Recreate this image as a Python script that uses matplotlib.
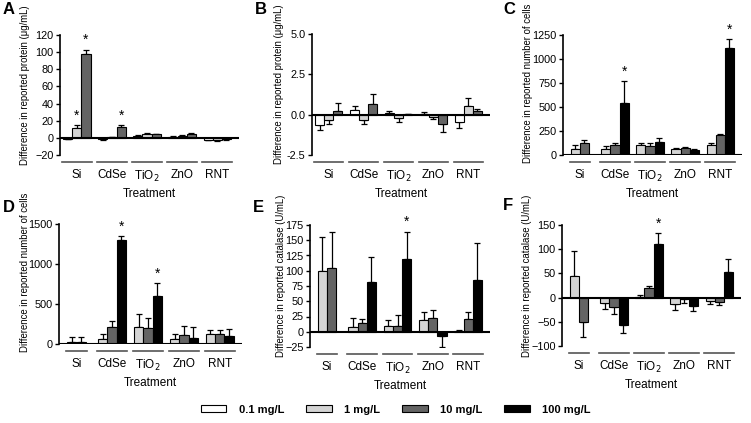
import numpy as np
import matplotlib
matplotlib.use("Agg")
import matplotlib.pyplot as plt
from matplotlib.transforms import blended_transform_factory
from matplotlib.patches import Patch

NARROW = ['Liberation Sans Narrow', 'Liberation Sans', 'DejaVu Sans']
REGULAR = ['Liberation Sans', 'DejaVu Sans']
plt.rcParams['font.family'] = NARROW
plt.rcParams['mathtext.fontset'] = 'custom'
plt.rcParams['mathtext.rm'] = 'Liberation Sans Narrow'

groups = ['Si', 'CdSe', 'TiO$_2$', 'ZnO', 'RNT']
nan = np.nan

# Panel A: protein (ug/mL), concentrations 0.1, 1, 10
A_c01 = [-1, -1.5, 2.5, 1.5, -2]
A_c01_err = [0.5, 0.5, 1, 0.5, 1]
A_c1 = [12, 1, 4, 2, -3]
A_c1_err = [3, 0.5, 1.5, 1, 1]
A_c10 = [98, 13, 4, 5, -1.5]
A_c10_err = [5, 2, 1, 1, 0.5]
A_star = [(0, 1), (0, 2), (1, 2)]

# Panel B: protein (ug/mL)
B_c01 = [-0.65, 0.3, 0.1, 0.05, -0.45]
B_c01_err = [0.3, 0.25, 0.1, 0.1, 0.4]
B_c1 = [-0.3, -0.3, -0.2, -0.15, 0.55]
B_c1_err = [0.3, 0.3, 0.25, 0.1, 0.5]
B_c10 = [0.25, 0.65, 0.02, -0.55, 0.2]
B_c10_err = [0.5, 0.6, 0.02, 0.5, 0.15]

# Panel C: number of cells, concentrations 1, 10, 100
C_c1 = [65, 60, 100, 60, 100]
C_c1_err = [35, 30, 20, 15, 30]
C_c10 = [120, 100, 95, 75, 205]
C_c10_err = [35, 25, 35, 5, 15]
C_c100 = [nan, 545, 135, 50, 1115]
C_c100_err = [nan, 225, 45, 10, 90]
C_star = [(1, 2), (4, 2)]

# Panel D: number of cells
D_c1 = [20, 60, 210, 60, 120]
D_c1_err = [70, 65, 160, 65, 50]
D_c10 = [25, 210, 195, 110, 125]
D_c10_err = [65, 75, 125, 120, 50]
D_c100 = [nan, 1300, 595, 70, 95]
D_c100_err = [nan, 45, 170, 145, 90]
D_star = [(1, 2), (2, 2)]

# Panel E: catalase (U/mL)
E_c1 = [100, 8, 10, 20, 2]
E_c1_err = [55, 15, 10, 13, 1]
E_c10 = [104, 15, 9, 22, 21]
E_c10_err = [59, 6, 18, 14, 11]
E_c100 = [nan, 82, 120, -7, 85]
E_c100_err = [nan, 40, 44, 18, 60]
E_star = [(2, 2)]

# Panel F: catalase (U/mL)
F_c1 = [45, -12, 1, -13, -8]
F_c1_err = [52, 12, 5, 12, 6]
F_c10 = [-50, -20, 20, -3, -10]
F_c10_err = [32, 13, 4, 8, 5]
F_c100 = [nan, -57, 110, -17, 53]
F_c100_err = [nan, 16, 23, 10, 27]
F_star = [(2, 2)]

col01, col1, col10, col100 = 'white', '#d4d4d4', '#646464', 'black'

fig = plt.figure(figsize=(7.51, 4.23), dpi=100)
W, H = 751, 423


def make_ax(x0, x1, y0, y1):
    return fig.add_axes([x0 / W, 1 - y1 / H, (x1 - x0) / W, (y1 - y0) / H])


def draw_panel(ax, series, colors, ylim, yticks, ylabel, letter, stars, lab_xy,
               letter_px, fmt=None):
    bw = 0.26
    ngr = len(groups)
    tr = blended_transform_factory(ax.transData, ax.transAxes)
    for g in range(ngr):
        present = [k for k, (v, e) in enumerate(series) if not np.isnan(v[g])]
        n = len(present)
        for j, k in enumerate(present):
            v, e = series[k]
            x = g + (j - (n - 1) / 2) * bw
            val = v[g]
            err = e[g]
            ax.bar(x, val, width=bw, color=colors[k], edgecolor='black',
                   linewidth=0.8, zorder=2)
            yerr = [[0], [err]] if val >= 0 else [[err], [0]]
            ax.errorbar(x, val, yerr=yerr, fmt='none', ecolor='black',
                        elinewidth=0.9, capsize=2.5, capthick=0.9, zorder=1)
            if (g, k) in stars:
                top = val + err
                ax.text(x, top + 0.02 * (ylim[1] - ylim[0]), '*', ha='center',
                        va='bottom', fontsize=10)
        half = n * bw / 2 + 0.03
        ax.plot([g - half, g + half], [-0.055, -0.055], color='#555555',
                lw=1.2, transform=tr, clip_on=False)
    ax.axhline(0, color='black', lw=1.5, zorder=3)
    ax.set_xlim(-0.48, 4.62)
    ax.set_ylim(*ylim)
    ax.set_yticks(yticks)
    if fmt:
        ax.set_yticklabels([fmt.format(t) for t in yticks])
    ax.set_xticks(range(ngr))
    ax.set_xticklabels(groups)
    ax.tick_params(axis='x', length=0, pad=10, labelsize=8.5)
    ax.tick_params(axis='y', direction='out', length=3, width=1, labelsize=7.8,
                   pad=1.5)
    for s in ['top', 'right', 'bottom']:
        ax.spines[s].set_visible(False)
    ax.spines['left'].set_linewidth(1.2)
    ax.set_xlabel('Treatment', fontsize=8.5, labelpad=3)
    ax.set_ylabel(ylabel, fontsize=6.9, family=REGULAR)
    ax.yaxis.set_label_coords(*lab_xy)
    fig.text(letter_px[0] / W, 1 - letter_px[1] / H, letter,
             family=REGULAR, fontsize=12, fontweight='bold',
             ha='left', va='center')


axA = make_ax(60, 239, 35, 155)
draw_panel(axA, [(A_c01, A_c01_err), (A_c1, A_c1_err), (A_c10, A_c10_err)],
           [col01, col1, col10], (-20, 120), list(range(-20, 121, 20)),
           'Difference in reported protein (μg/mL)', 'A', A_star,
           (-0.165, 0.583), (3, 9))

axB = make_ax(312, 490, 34, 155)
draw_panel(axB, [(B_c01, B_c01_err), (B_c1, B_c1_err), (B_c10, B_c10_err)],
           [col01, col1, col10], (-2.5, 5.0), [-2.5, 0.0, 2.5, 5.0],
           'Difference in reported protein (μg/mL)', 'B', [],
           (-0.155, 0.583), (255, 9), fmt='{:.1f}')

axC = make_ax(563, 742, 35, 155)
draw_panel(axC, [(C_c1, C_c1_err), (C_c10, C_c10_err), (C_c100, C_c100_err)],
           [col1, col10, col100], (0, 1250), list(range(0, 1251, 250)),
           'Difference in reported number of cells', 'C', C_star,
           (-0.17, 0.6), (503, 9))

axD = make_ax(59, 242, 224, 344)
draw_panel(axD, [(D_c1, D_c1_err), (D_c10, D_c10_err), (D_c100, D_c100_err)],
           [col1, col10, col100], (0, 1500), [0, 500, 1000, 1500],
           'Difference in reported number of cells', 'D', D_star,
           (-0.16, 0.6), (3, 207))

axE = make_ax(310, 490, 225, 347)
draw_panel(axE, [(E_c1, E_c1_err), (E_c10, E_c10_err), (E_c100, E_c100_err)],
           [col1, col10, col100], (-25, 175), list(range(-25, 176, 25)),
           'Difference in reported catalase (U/mL)', 'E', E_star,
           (-0.135, 0.58), (253, 207))

axF = make_ax(562, 741, 225, 346)
draw_panel(axF, [(F_c1, F_c1_err), (F_c10, F_c10_err), (F_c100, F_c100_err)],
           [col1, col10, col100], (-100, 150), list(range(-100, 151, 50)),
           'Difference in reported catalase (U/mL)', 'F', F_star,
           (-0.168, 0.58), (503, 205))

legend_labels = ['0.1 mg/L', '1 mg/L', '10 mg/L', '100 mg/L']
handles = [Patch(facecolor=c, edgecolor='black', linewidth=0.8)
           for c in [col01, col1, col10, col100]]
fig.legend(handles, legend_labels, loc='center', bbox_to_anchor=(0.527, 0.031),
           ncol=4, frameon=False,
           prop={'weight': 'bold', 'size': 8, 'family': 'Liberation Sans'},
           handlelength=2.3, handleheight=0.6, handletextpad=1.1,
           columnspacing=2.0)

fig.savefig('out.png', dpi=100)
